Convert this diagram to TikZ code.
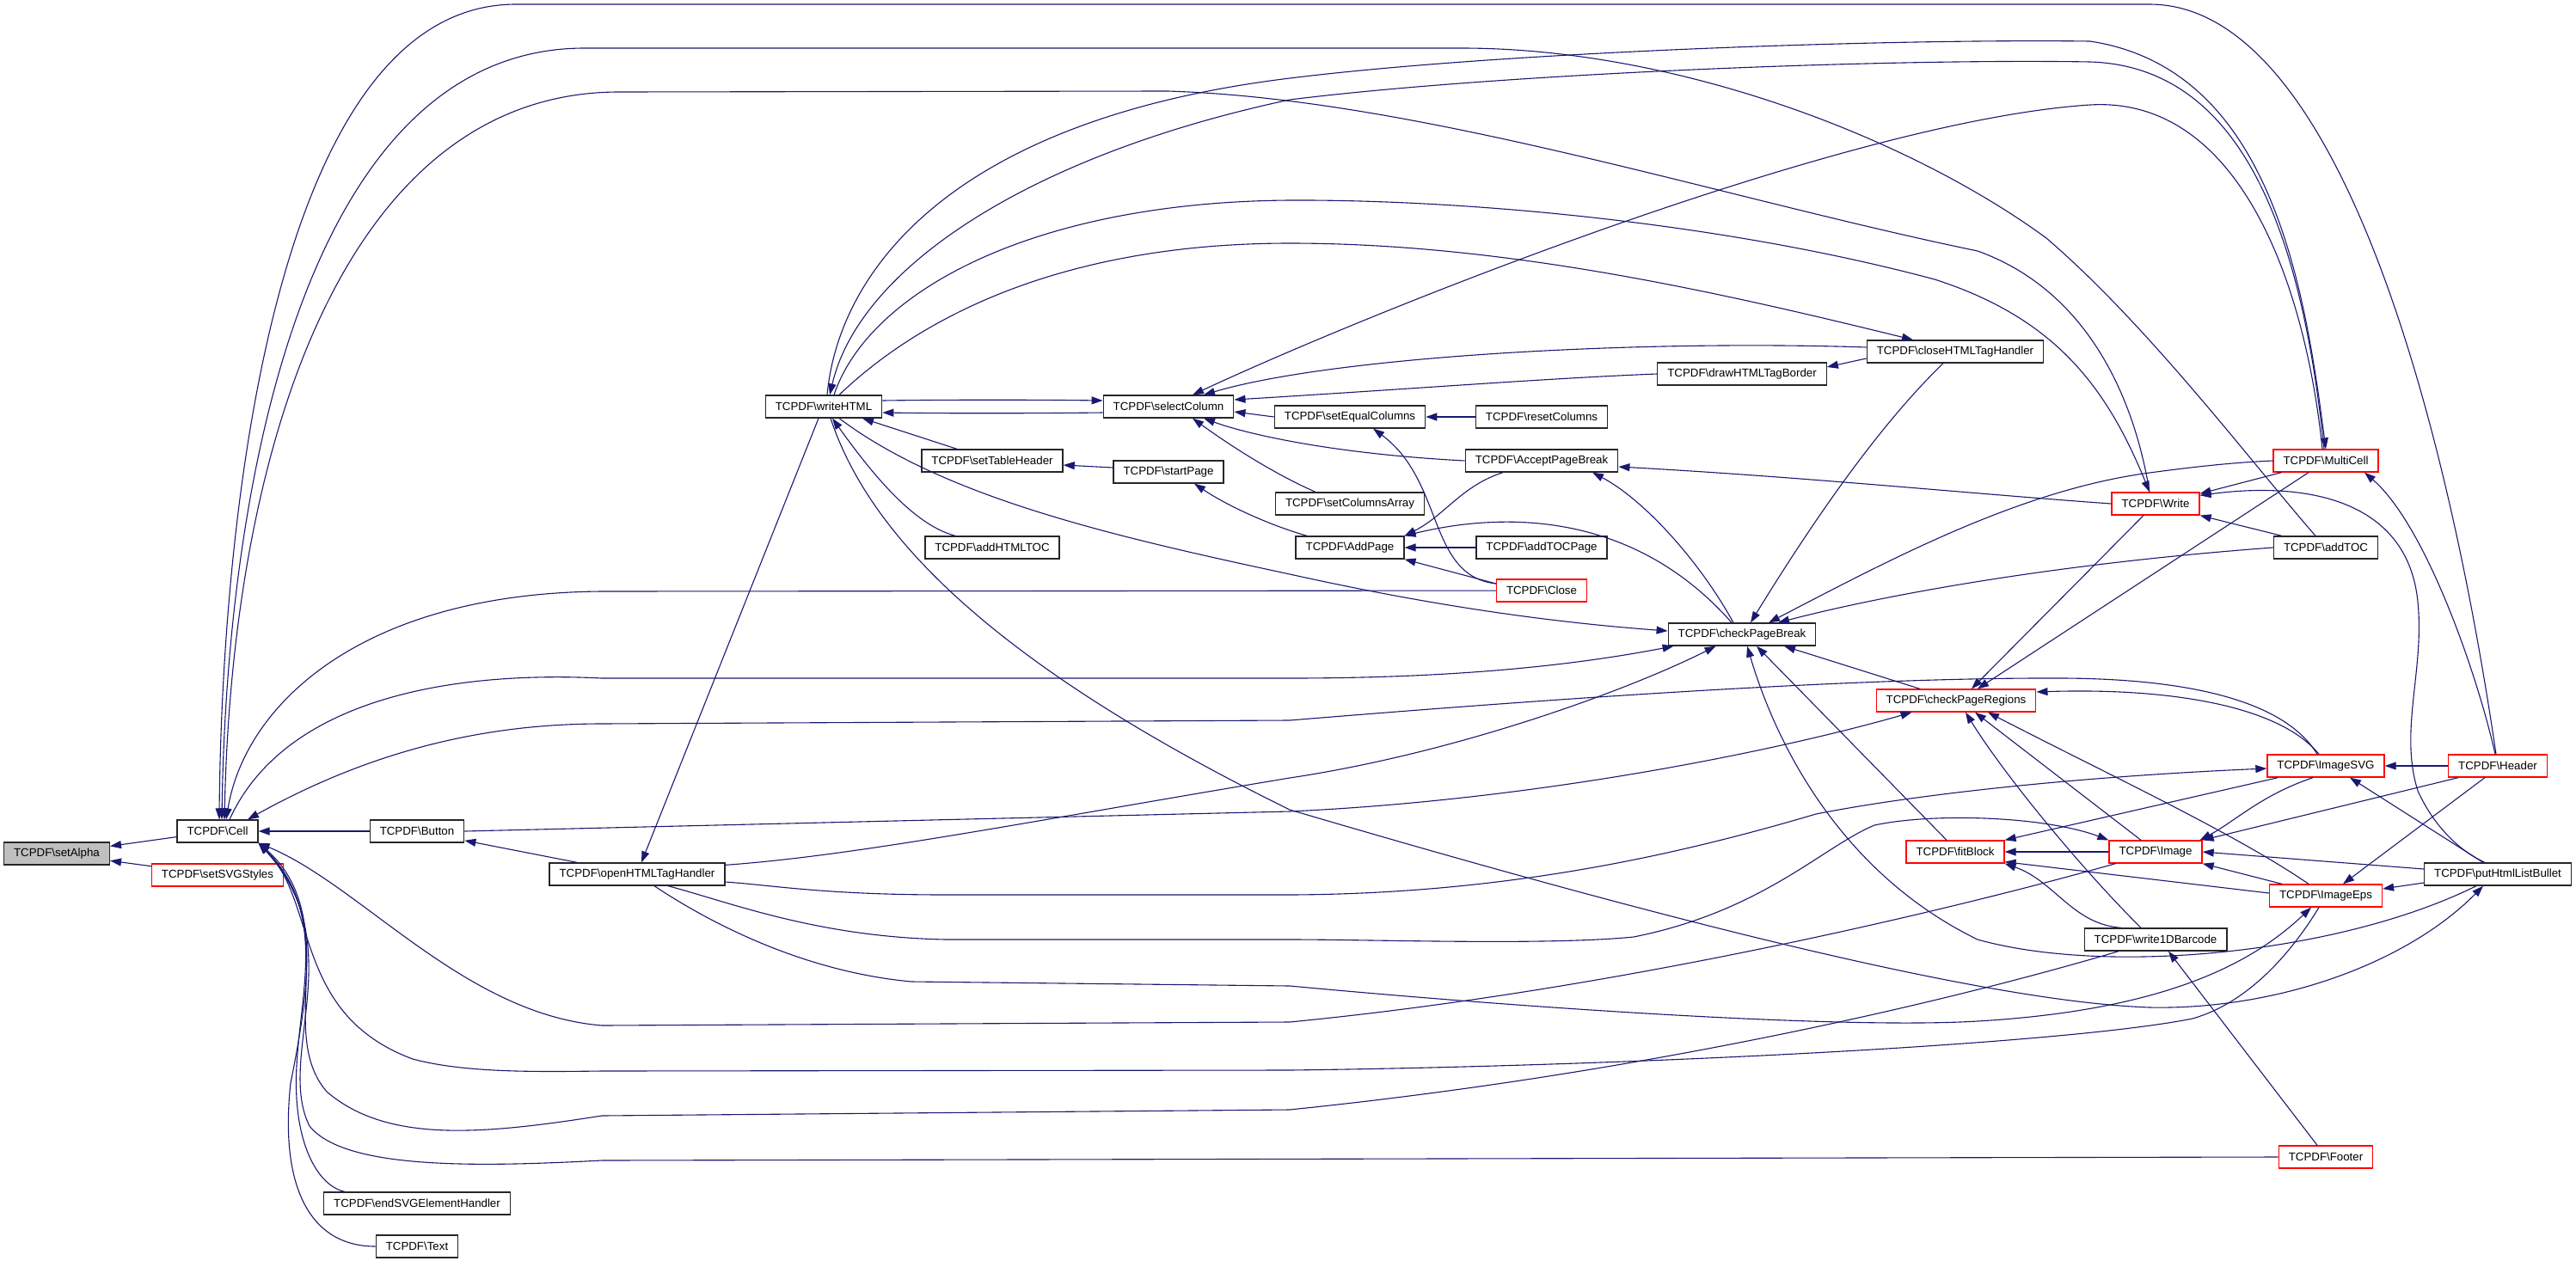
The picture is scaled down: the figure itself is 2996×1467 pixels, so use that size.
\documentclass[tikz,border=0pt]{standalone}
\usepackage{fontspec}
\setmainfont{Liberation Sans}
\usepackage{xcolor}
\definecolor{edgeBlue}{HTML}{191970}
\definecolor{rootGray}{HTML}{BFBFBF}
\definecolor{boxRed}{HTML}{FF0000}
\usetikzlibrary{arrows.meta}
\newcommand{\tcpdf}[1]{TCPDF\textbackslash #1}
\tikzset{
  fn/.style={draw=black!85, fill=white, line width=1.3pt, minimum height=26pt,
    inner xsep=11.5pt, inner ysep=0pt, font=\fontsize{13.3pt}{16pt}\selectfont},
  fnred/.style={fn, draw=boxRed},
  fnroot/.style={fn, fill=rootGray},
  call/.style={draw=edgeBlue, line width=1.1pt, {Triangle[length=13pt,width=9pt]}-}
}

\begin{document}
\begin{tikzpicture}[x=1pt, y=-1pt]
  \useasboundingbox (0,0) rectangle (2996,1467);
  % nodes
  \node[fnroot] (setAlpha) at (66,993) {\tcpdf{setAlpha}};
  \node[fn] (Cell) at (253,967) {\tcpdf{Cell}};
  \node[fnred] (setSVGStyles) at (253,1018) {\tcpdf{setSVGStyles}};
  \node[fn] (Button) at (485,967) {\tcpdf{Button}};
  \node[fn] (endSVGElementHandler) at (485,1400) {\tcpdf{endSVGElementHandler}};
  \node[fn] (Text) at (485,1450) {\tcpdf{Text}};
  \node[fn] (openHTMLTagHandler) at (741,1017) {\tcpdf{openHTMLTagHandler}};
  \node[fn] (writeHTML) at (958,473) {\tcpdf{writeHTML}};
  \node[fn] (setTableHeader) at (1154,536) {\tcpdf{setTableHeader}};
  \node[fn] (addHTMLTOC) at (1154,637) {\tcpdf{addHTMLTOC}};
  \node[fn] (selectColumn) at (1359,473) {\tcpdf{selectColumn}};
  \node[fn] (startPage) at (1359,549) {\tcpdf{startPage}};
  \node[fn] (setEqualColumns) at (1570,485) {\tcpdf{setEqualColumns}};
  \node[fn] (setColumnsArray) at (1570,586) {\tcpdf{setColumnsArray}};
  \node[fn] (AddPage) at (1570,637) {\tcpdf{AddPage}};
  \node[fn] (resetColumns) at (1793,485) {\tcpdf{resetColumns}};
  \node[fn] (AcceptPageBreak) at (1793,536) {\tcpdf{AcceptPageBreak}};
  \node[fn] (addTOCPage) at (1793,637) {\tcpdf{addTOCPage}};
  \node[fnred] (Close) at (1793,687) {\tcpdf{Close}};
  \node[fn] (drawHTMLTagBorder) at (2026,435) {\tcpdf{drawHTMLTagBorder}};
  \node[fn] (checkPageBreak) at (2026,738) {\tcpdf{checkPageBreak}};
  \node[fn] (closeHTMLTagHandler) at (2274,409) {\tcpdf{closeHTMLTagHandler}};
  \node[fnred] (checkPageRegions) at (2275,815) {\tcpdf{checkPageRegions}};
  \node[fnred] (fitBlock) at (2274,991) {\tcpdf{fitBlock}};
  \node[fnred] (Write) at (2507,586) {\tcpdf{Write}};
  \node[fnred] (Image) at (2507,991) {\tcpdf{Image}};
  \node[fn] (write1DBarcode) at (2507,1093) {\tcpdf{write1DBarcode}};
  \node[fnred] (MultiCell) at (2705,536) {\tcpdf{MultiCell}};
  \node[fn] (addTOC) at (2705,637) {\tcpdf{addTOC}};
  \node[fnred] (ImageSVG) at (2705,891) {\tcpdf{ImageSVG}};
  \node[fnred] (ImageEps) at (2705,1042) {\tcpdf{ImageEps}};
  \node[fnred] (Footer) at (2705,1346) {\tcpdf{Footer}};
  \node[fnred] (Header) at (2905,891) {\tcpdf{Header}};
  \node[fn] (putHtmlListBullet) at (2905,1017) {\tcpdf{putHtmlListBullet}};

  % calls into setAlpha and Cell
  \draw[call] (setAlpha) -- (Cell);
  \draw[call] (setAlpha) -- (setSVGStyles);
  \draw[call] (Cell) -- (Button);
  \draw[call] (Button) -- (openHTMLTagHandler);
  \draw[call] ([xshift=2pt]Cell.north) .. controls (258,600) and (320,5) .. (600,5) -- (2500,5) .. controls (2710,5) and (2840,450) .. ([xshift=-2pt]Header.north);
  \draw[call] ([xshift=5pt]Cell.north) .. controls (264,550) and (360,56) .. (680,56) -- (1700,56) .. controls (1950,56) and (2220,160) .. (2380,277) .. controls (2500,380) and (2620,540) .. ([xshift=-12pt]addTOC.north);
  \draw[call] ([xshift=8pt]Cell.north) .. controls (270,520) and (400,107) .. (720,107) -- (1358,106) .. controls (1650,115) and (2000,230) .. (2300,292) .. controls (2420,335) and (2480,450) .. ([xshift=-7pt]Write.north);
  \draw[call] ([xshift=10pt]Cell.north) .. controls (285,820) and (420,690) .. (700,688) -- (Close);
  \draw[call] ([xshift=7pt]checkPageBreak.south west) .. controls (1800,780) and (1650,789) .. (1500,789) -- (700,789) .. controls (520,780) and (330,815) .. ([xshift=14pt]Cell.north);
  \draw[call] ([xshift=35pt]Cell.north) .. controls (420,880) and (550,842) .. (700,842) -- (1500,838) .. controls (1900,805) and (2200,788) .. (2400,789) .. controls (2560,790) and (2660,820) .. ([xshift=-10pt]ImageSVG.north);
  \draw[call] (Cell.south east) .. controls (420,1030) and (540,1180) .. (700,1193) -- (1500,1189) .. controls (1900,1150) and (2300,1050) .. ([xshift=8pt]Image.south west);
  \draw[call] (Cell.south east) .. controls (370,1050) and (340,1180) .. (480,1232) .. controls (540,1248) and (620,1247) .. (700,1246) -- (1500,1245) .. controls (1900,1240) and (2400,1215) .. (2550,1185) .. controls (2620,1165) and (2670,1100) .. ([xshift=-8pt]ImageEps.south);
  \draw[call] (Cell.south east) .. controls (400,1080) and (320,1200) .. (380,1270) .. controls (450,1330) and (560,1320) .. (700,1298) -- (1500,1291) .. controls (1900,1250) and (2250,1170) .. ([xshift=-43pt]write1DBarcode.south);
  \draw[call] (Cell.south east) .. controls (410,1100) and (320,1230) .. (360,1310) .. controls (400,1360) and (550,1358) .. (700,1350) -- (Footer.west);
  \draw[call] (Cell.south east) .. controls (380,1060) and (350,1150) .. (345,1240) .. controls (340,1330) and (370,1380) .. ([xshift=25pt]endSVGElementHandler.north west);
  \draw[call] (Cell.south east) .. controls (375,1045) and (360,1150) .. (338,1260) .. controls (325,1380) and (360,1450) .. (Text.west);
  \draw[call] ([xshift=42pt]checkPageRegions.south west) .. controls (2080,870) and (1800,930) .. (1500,944) -- (Button.east);

  % openHTMLTagHandler
  \draw[call] ([xshift=5pt]openHTMLTagHandler.north) -- ([xshift=-6pt]writeHTML.south);
  \draw[call] ([xshift=56pt]checkPageBreak.south west) .. controls (1900,800) and (1700,875) .. (1500,905) .. controls (1200,955) and (1000,995) .. ([yshift=-3pt]openHTMLTagHandler.north east);
  \draw[call] ([yshift=-3pt]ImageSVG.west) .. controls (2450,902) and (2250,920) .. (2112,947) .. controls (1950,995) and (1750,1040) .. (1500,1041) -- (1100,1041) .. controls (960,1041) and (900,1030) .. ([yshift=-9pt]openHTMLTagHandler.east);
  \draw[call] (Image.north west) .. controls (2380,950) and (2250,945) .. (2180,960) .. controls (2120,985) and (2050,1060) .. (1900,1090) .. controls (1800,1100) and (1600,1093) .. (1500,1093) -- (1100,1093) .. controls (950,1090) and (850,1050) .. ([xshift=36pt]openHTMLTagHandler.south);
  \draw[call] ([xshift=-17pt]ImageEps.south) .. controls (2620,1120) and (2520,1175) .. (2300,1188) .. controls (2150,1197) and (1800,1175) .. (1500,1147) -- (1060,1142) .. controls (930,1130) and (820,1070) .. ([xshift=20pt]openHTMLTagHandler.south);

  % writeHTML
  \draw[call] ([yshift=7pt]selectColumn.west) .. controls (1200,465) and (1100,465) .. ([yshift=7pt]writeHTML.east);
  \draw[call] ([yshift=-7pt]writeHTML.east) .. controls (1100,481) and (1200,481) .. ([yshift=-7pt]selectColumn.west);
  \draw[call] ([xshift=45pt]writeHTML.south) -- ([xshift=-41pt]setTableHeader.north);
  \draw[call] ([xshift=10pt]writeHTML.south) .. controls (1010,545) and (1060,610) .. ([xshift=-43pt]addHTMLTOC.north);
  \draw[call] ([yshift=4pt]checkPageBreak.west) .. controls (1750,720) and (1600,690) .. (1500,668) .. controls (1300,625) and (1100,580) .. ([xshift=18pt]writeHTML.south);
  \draw[call] ([xshift=-17pt]putHtmlListBullet.south) .. controls (2800,1120) and (2650,1175) .. (2500,1172) .. controls (2300,1165) and (1900,1060) .. (1500,942) .. controls (1150,770) and (1010,620) .. ([xshift=8pt]writeHTML.south);
  \draw[call] ([xshift=-49pt]closeHTMLTagHandler.north) .. controls (2000,340) and (1750,283) .. (1500,283) .. controls (1250,283) and (1080,360) .. ([xshift=18pt]writeHTML.north);
  \draw[call] ([xshift=-7pt]Write.north) .. controls (2450,450) and (2390,370) .. (2250,325) .. controls (2000,258) and (1700,232) .. (1500,233) .. controls (1200,235) and (1010,340) .. ([xshift=12pt]writeHTML.north);
  \draw[call] (MultiCell.north) .. controls (2680,330) and (2640,80) .. (2431,48) .. controls (2200,45) and (1750,60) .. (1500,91) .. controls (1100,140) and (975,320) .. ([xshift=4pt]writeHTML.north);
  \draw[call] ([xshift=7pt]writeHTML.north) .. controls (1000,310) and (1200,180) .. (1500,116) .. controls (1750,85) and (2200,68) .. (2431,72) .. controls (2620,78) and (2680,300) .. ([xshift=-2pt]MultiCell.north);

  % selectColumn and pages
  \draw[call] ([xshift=28pt]selectColumn.north) .. controls (1600,360) and (2150,140) .. (2431,122) .. controls (2600,112) and (2680,320) .. ([xshift=-4pt]MultiCell.north);
  \draw[call] ([xshift=41pt]selectColumn.north) .. controls (1550,415) and (1900,395) .. ([yshift=5pt]closeHTMLTagHandler.west);
  \draw[call] ([yshift=8pt]selectColumn.east) .. controls (1650,452) and (1800,440) .. (drawHTMLTagBorder.west);
  \draw[call] ([yshift=-6pt]selectColumn.east) -- (setEqualColumns.west);
  \draw[call] (setEqualColumns) -- (resetColumns);
  \draw[call] ([xshift=41pt]selectColumn.south) .. controls (1450,505) and (1550,528) .. (AcceptPageBreak.west);
  \draw[call] ([xshift=28pt]selectColumn.south) .. controls (1440,525) and (1490,555) .. ([xshift=-40pt]setColumnsArray.north);
  \draw[call] ([yshift=-5pt]setTableHeader.east) -- ([yshift=5pt]startPage.west);
  \draw[call] ([xshift=30pt]startPage.south) .. controls (1430,590) and (1480,612) .. ([xshift=-50pt]AddPage.north);
  \draw[call] (AddPage.north east) .. controls (1680,600) and (1700,565) .. ([xshift=-45pt]AcceptPageBreak.south);
  \draw[call] (AddPage.north east) .. controls (1750,595) and (1900,595) .. ([xshift=-12pt]checkPageBreak.north);
  \draw[call] (AddPage) -- (addTOCPage);
  \draw[call] (AddPage.south east) -- ([yshift=8pt]Close.west);
  \draw[call] ([xshift=27pt]setEqualColumns.south) .. controls (1680,560) and (1660,670) .. ([yshift=8pt]Close.west);
  \draw[call] ([xshift=59pt]AcceptPageBreak.south) .. controls (1910,580) and (1975,650) .. ([xshift=-10pt]checkPageBreak.north);
  \draw[call] ([yshift=-7pt]AcceptPageBreak.east) .. controls (2100,555) and (2300,575) .. (Write.west);
  \draw[call] ([yshift=8pt]drawHTMLTagBorder.east) -- ([yshift=-8pt]closeHTMLTagHandler.west);

  % checkPageBreak and checkPageRegions
  \draw[call] ([xshift=10pt]checkPageBreak.north) .. controls (2100,620) and (2180,500) .. ([xshift=-14pt]closeHTMLTagHandler.south);
  \draw[call] ([xshift=31pt]checkPageBreak.north) .. controls (2200,650) and (2350,570) .. (2500,550) .. controls (2560,542) and (2600,538) .. (MultiCell.west);
  \draw[call] ([xshift=42pt]checkPageBreak.north) .. controls (2200,690) and (2400,655) .. (addTOC.west);
  \draw[call] ([xshift=6pt]checkPageBreak.south) .. controls (2070,880) and (2150,1020) .. (2300,1093) .. controls (2450,1135) and (2720,1110) .. ([xshift=-25pt]putHtmlListBullet.south);
  \draw[call] ([xshift=17pt]checkPageBreak.south) -- ([xshift=-10pt]fitBlock.north);
  \draw[call] ([xshift=49pt]checkPageBreak.south) -- ([xshift=-42pt]checkPageRegions.north);
  \draw[call] ([xshift=18pt]checkPageRegions.north) -- ([xshift=-14pt]Write.south);
  \draw[call] ([xshift=25pt]checkPageRegions.north) -- ([xshift=-20pt]MultiCell.south);
  \draw[call] ([yshift=10pt]checkPageRegions.east) .. controls (2520,800) and (2650,820) .. ([xshift=-8pt]ImageSVG.north);
  \draw[call] ([xshift=11pt]checkPageRegions.south) .. controls (2330,900) and (2420,1010) .. ([xshift=-17pt]write1DBarcode.north);
  \draw[call] ([xshift=22pt]checkPageRegions.south) -- ([xshift=-17pt]Image.north);
  \draw[call] ([xshift=37pt]checkPageRegions.south) .. controls (2450,900) and (2600,970) .. ([xshift=-20pt]ImageEps.north);

  % images and the right column
  \draw[call] (fitBlock) -- (Image);
  \draw[call] (fitBlock.north east) -- ([xshift=13pt]ImageSVG.south west);
  \draw[call] ([yshift=2pt]fitBlock.south east) -- ([yshift=3pt]ImageEps.west);
  \draw[call] (fitBlock.south east) .. controls (2390,1025) and (2410,1075) .. ([xshift=-40pt]write1DBarcode.north);
  \draw[call] ([xshift=-3pt]Image.north east) .. controls (2600,955) and (2630,925) .. ([xshift=-15pt]ImageSVG.south);
  \draw[call] (Image.north east) -- ([xshift=12pt]Header.south west);
  \draw[call] (Image.east) -- ([yshift=6pt]putHtmlListBullet.west);
  \draw[call] (Image.south east) -- ([xshift=15pt]ImageEps.north west);
  \draw[call] (ImageSVG) -- (Header);
  \draw[call] ([xshift=28pt]ImageSVG.south) -- ([xshift=-17pt]putHtmlListBullet.north);
  \draw[call] ([yshift=8pt]ImageEps.east) -- ([yshift=-10pt]putHtmlListBullet.west);
  \draw[call] ([xshift=20pt]ImageEps.north) -- ([xshift=-15pt]Header.south);
  \draw[call] ([xshift=45pt]MultiCell.south) .. controls (2820,610) and (2880,780) .. ([xshift=-3pt]Header.north);
  \draw[call] ([yshift=-2pt]Write.north east) -- ([xshift=10pt]MultiCell.south west);
  \draw[call] ([yshift=-4pt]Write.north east) .. controls (2680,560) and (2800,580) .. (2812,700) .. controls (2820,780) and (2790,850) .. (2812,920) .. controls (2830,960) and (2860,990) .. ([xshift=-15pt]putHtmlListBullet.north);
  \draw[call] (Write.south east) -- ([xshift=10pt]addTOC.north west);
  \draw[call] ([xshift=15pt]write1DBarcode.south) -- ([xshift=-10pt]Footer.north);
\end{tikzpicture}
\end{document}
